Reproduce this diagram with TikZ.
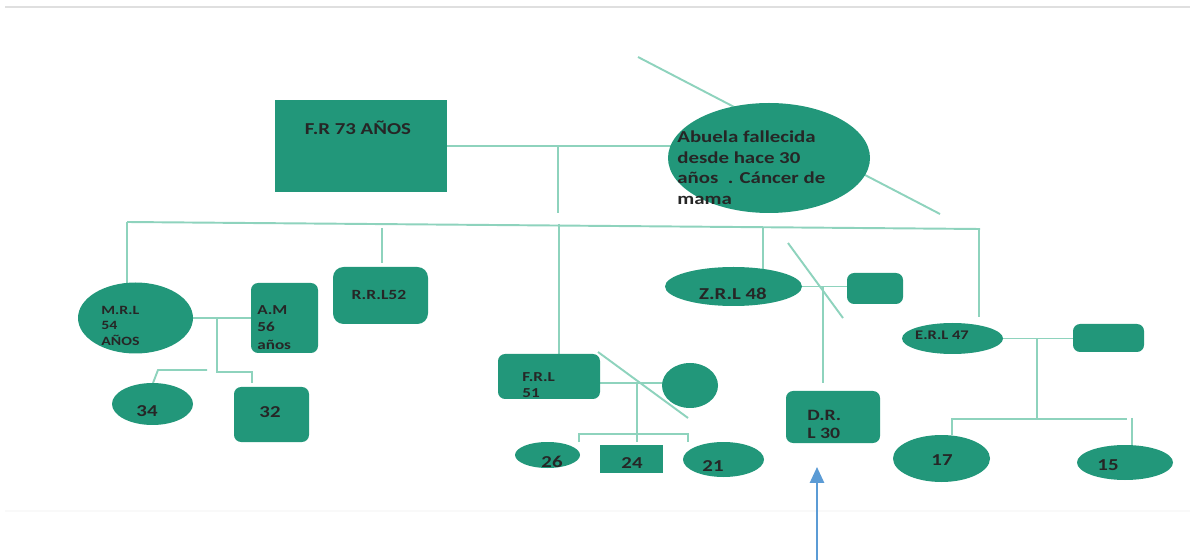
\documentclass[tikz,border=0pt]{standalone}
\usepackage{fontspec}
\setmainfont{Carlito}[FakeStretch=1.25]
\usetikzlibrary{shapes.geometric,arrows.meta,backgrounds}
\definecolor{fam}{HTML}{22977A}
\definecolor{lnk}{HTML}{8ED3BD}
\definecolor{arw}{HTML}{5B9BD5}
\begin{document}
\begin{tikzpicture}[x=0.02cm, y=-0.02cm,
        sz/.style 2 args={minimum width=#1*0.02cm, minimum height=#2*0.02cm},
        sq/.style={fill=fam, inner sep=0pt},
        rb/.style={fill=fam, rounded corners=4pt, inner sep=0pt},
        ov/.style={ellipse, fill=fam, inner sep=0pt},
        tb/.style 2 args={inner sep=0pt, align=left, text=black!85, font=\fontsize{#1}{#2}\selectfont\bfseries},
        l/.style={draw=lnk, line width=1.1pt}]
        \useasboundingbox (0,0) rectangle (1190,560);
        \draw[gray!25, line width=1.2pt] (5,7) -- (1190,7);
        \draw[gray!5, line width=1pt] (5,511) -- (1190,511);

        \node[sq, sz={172}{92}] (fr) at (361,146) {};
        \node[ov, sz={202}{110}] (ab) at (769,158) {};
        \node[ov, sz={115}{71}] (mrl) at (135.5,318) {};
        \node[rb, sz={67}{70}] (am) at (284.5,318) {};
        \node[rb, sz={95}{57}, rounded corners=6pt] (rrl) at (380.5,295.5) {};
        \node[ov, sz={81}{42}] (c34) at (152.5,404) {};
        \node[rb, sz={75}{55}] (c32) at (271.5,414.5) {};
        \node[rb, sz={102}{45}] (frl) at (549,376.5) {};
        \node[ov, sz={56}{45}] (frw) at (690,385.5) {};
        \node[ov, sz={65}{26}] (c26) at (547.5,455) {};
        \node[sq, sz={63}{28}] (c24) at (631.5,459) {};
        \node[ov, sz={81}{35}] (c21) at (723.5,459.5) {};
        \node[ov, sz={137}{39}] (zrl) at (733.5,286.5) {};
        \node[rb, sz={56}{31}] (zrh) at (875,288.5) {};
        \node[rb, sz={94}{52}] (drl) at (833,417) {};
        \node[ov, sz={101}{31}] (erl) at (952.5,338.5) {};
        \node[rb, sz={71}{28}] (erh) at (1108.5,338) {};
        \node[ov, sz={97}{47}] (c17) at (941.5,458.5) {};
        \node[ov, sz={96}{35}] (c15) at (1125,462.5) {};

        \node[tb={9.5}{11.7}] (fr-t) at (358,128) {F.R 73 AÑOS};
        \node[tb={9.5}{11.7}, anchor=west] (ab-t) at (677,167.5) {Abuela fallecida\\desde hace 30\\años\ \ . Cáncer de\\mama};
        \node[tb={7.2}{8.8}, anchor=west] (mrl-t) at (101,325.5) {M.R.L\\54\\AÑOS};
        \node[tb={7.8}{9.9}, anchor=west] (am-t) at (257,327.5) {A.M\\56\\años};
        \node[tb={8}{9.6}] (rrl-t) at (379,295) {R.R.L52};
        \node[tb={9.5}{11}] (c34-t) at (147,411) {34};
        \node[tb={9.5}{11}] (c32-t) at (270,412) {32};
        \node[tb={7.8}{9}, anchor=west] (frl-t) at (522,385) {F.R.L\\51};
        \node[tb={9.5}{11}] (c26-t) at (552,462) {26};
        \node[tb={9.5}{11}] (c24-t) at (632,463) {24};
        \node[tb={9.5}{11}] (c21-t) at (713,466) {21};
        \node[tb={9.5}{11}] (zrl-t) at (733,294) {Z.R.L 48};
        \node[tb={9}{10.2}, anchor=west] (drl-t) at (807,424) {D.R.\\L 30};
        \node[tb={7.5}{9}] (erl-t) at (942,335) {E.R.L 47};
        \node[tb={9.5}{11}] (c17-t) at (942,460) {17};
        \node[tb={9.5}{11}] (c15-t) at (1108,465) {15};

        \coordinate (p1) at (558,146);
        \coordinate (p2) at (558,213);
        \coordinate (d1) at (638,57);
        \coordinate (d2) at (940,214);
        \coordinate (s1) at (127,222);
        \coordinate (s2) at (980,229);
        \coordinate (r1) at (382,228);
        \coordinate (r2) at (382,263);
        \coordinate (f1) at (559,224);
        \coordinate (z1) at (763,227);
        \coordinate (e1) at (979,229);
        \coordinate (e2) at (979,317);
        \coordinate (m1) at (217,318);
        \coordinate (m2) at (217,372);
        \coordinate (m3) at (252,372);
        \coordinate (m4) at (252,383);
        \coordinate (m5) at (207,370);
        \coordinate (m6) at (158,370);
        \coordinate (m7) at (153,383);
        \coordinate (f2) at (600,383);
        \coordinate (f3) at (637,383);
        \coordinate (f4) at (637,442);
        \coordinate (f5) at (579,442);
        \coordinate (f6) at (688,442);
        \coordinate (g1) at (598,352);
        \coordinate (g2) at (688,418);
        \coordinate (k1) at (823,287);
        \coordinate (k2) at (823,383);
        \coordinate (h1) at (788,243);
        \coordinate (h2) at (843,318);
        \coordinate (q1) at (1037,339);
        \coordinate (q2) at (1037,419);
        \coordinate (q3) at (952,435);
        \coordinate (q4) at (1127,419);
        \coordinate (q5) at (1132,418);
        \coordinate (q6) at (1132,445);
        \coordinate (a1) at (817,560);
        \coordinate (a2) at (817,467);

        \begin{scope}[on background layer]
        \draw[l] (fr.east) -- (fr.east -| ab.center);
        \draw[l] (p1) -- (p2);
        \draw[l] (d1) -- (d2);
        \draw[l] (s1) -- (s2);
        \draw[l] (s1) -- (s1 |- mrl);
        \draw[l] (r1) -- (r2);
        \draw[l] (f1) -- (f1 |- frl);
        \draw[l] (z1) -- (z1 |- zrl);
        \draw[l] (e1) -- (e2);
        \draw[l] (mrl) -- (am);
        \draw[l] (m1) -- (m2) -- (m3) -- (m4);
        \draw[l] (m5) -- (m6) -- (m7);
        \draw[l] (f2 -| frl) -- (f2 -| frw);
        \draw[l] (f3) -- (f4);
        \draw[l] (f5) -- ++(0,-8) -| (f6);
        \draw[l] (zrl) -- (zrl -| zrh);
        \draw[l] (k1) -- (k2);
        \draw[l] (erl) -- (erl -| erh);
        \draw[l] (q1) -- (q2);
        \draw[l] (q3) |- (q4);
        \draw[l] (q5) -- (q6);
        \end{scope}
        \draw[l] (g1) -- (g2);
        \draw[l] (h1) -- (h2);
        \draw[arw, line width=1.2pt, -{Triangle[width=8pt,length=9pt]}] (a1) -- (a2);
    \end{tikzpicture}
\end{document}
